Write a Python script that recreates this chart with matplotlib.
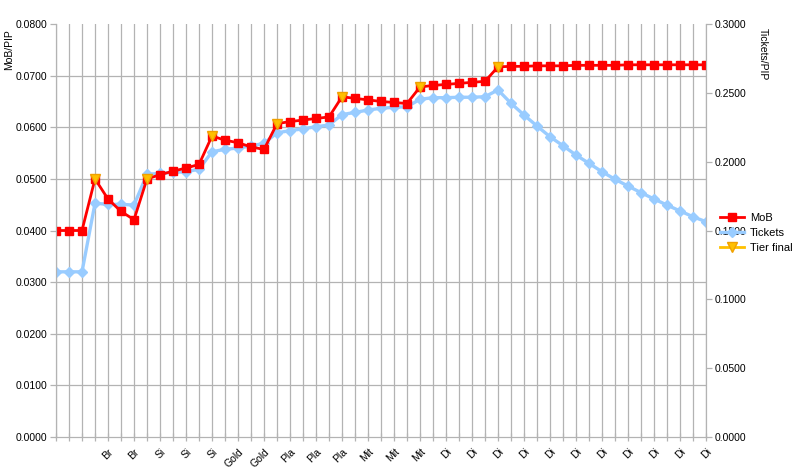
import numpy as np
import matplotlib
matplotlib.use("Agg")
import matplotlib.pyplot as plt
from matplotlib.ticker import MultipleLocator, FormatStrFormatter

plt.rcParams['font.family'] = ['Liberation Sans', 'DejaVu Sans']

# Categorias (51 pontos, rotulo mostrado a cada 2)
cats = ([''] * 3 + ['Br'] * 4 + ['Si'] * 6 + ['Gold'] * 4 + ['Pla'] * 6
        + ['Mit'] * 6 + ['Di'] * 22)

# MoB/PIP (eixo esquerdo)
mob = [0.0400, 0.0400, 0.0400,
       0.0500, 0.0461, 0.0437, 0.0421,
       0.0500, 0.0508, 0.0515, 0.0521, 0.0528,
       0.0583, 0.0575, 0.0570, 0.0562, 0.0557,
       0.0607, 0.0611, 0.0614, 0.0617, 0.0620,
       0.0659, 0.0656, 0.0653, 0.0650, 0.0648, 0.0646,
       0.0678, 0.0681, 0.0683, 0.0685, 0.0687, 0.0689,
       0.0717, 0.0718, 0.0718, 0.0719, 0.0719, 0.0719, 0.0720, 0.0720,
       0.0720, 0.0720, 0.0721, 0.0721, 0.0721, 0.0721, 0.0721, 0.0721, 0.0721]

# Tickets/PIP (eixo direito)
tickets = [0.1200, 0.1200, 0.1200,
           0.1698, 0.1690, 0.1690, 0.1685,
           0.1908, 0.1915, 0.1922, 0.1927, 0.1945,
           0.2072, 0.2090, 0.2099, 0.2114, 0.2133,
           0.2210, 0.2225, 0.2239, 0.2254, 0.2266,
           0.2342, 0.2358, 0.2375, 0.2388, 0.2395, 0.2399,
           0.2453, 0.2465, 0.2465, 0.2468, 0.2468, 0.2472,
           0.2521, 0.2424, 0.2339, 0.2259, 0.2181, 0.2116, 0.2048, 0.1988,
           0.1927, 0.1872, 0.1823, 0.1775, 0.1729, 0.1685, 0.1642, 0.1600, 0.1564]

# Tier final (so nos pontos de mudanca de tier)
tier_idx = [3, 7, 12, 17, 22, 28, 34]
tier_vals = [0.0500, 0.0500, 0.0583, 0.0607, 0.0659, 0.0678, 0.0717]

x = np.arange(len(cats))
tier = np.full(len(cats), np.nan)
tier[tier_idx] = tier_vals

grid_c = '#b3b3b3'
fig = plt.figure(figsize=(8, 4.69), dpi=100)
ax = fig.add_axes([0.07, 0.0682, 0.8125, 0.8806])
ax2 = ax.twinx()

# eixo esquerdo por cima, grade desenhada no eixo de baixo
ax.set_zorder(ax2.get_zorder() + 1)
ax.patch.set_visible(False)

ax2.plot(x, tickets, color='#99ccff', lw=2.4, marker='D', ms=5, label='Tickets')
ax.plot(x, mob, color='#ff0000', lw=2, marker='s', ms=6, label='MoB')
ax.plot(x, tier, color='#ffc000', lw=2, marker='v', ms=7, mec='#f0a000',
        label='Tier final')

ax.set_xlim(0, len(cats) - 1)
ax.set_ylim(0, 0.08)
ax2.set_ylim(0, 0.30)
ax.yaxis.set_major_locator(MultipleLocator(0.01))
ax2.yaxis.set_major_locator(MultipleLocator(0.05))
ax2.yaxis.set_minor_locator(MultipleLocator(0.30 / 8))
ax.yaxis.set_major_formatter(FormatStrFormatter('%.4f'))
ax2.yaxis.set_major_formatter(FormatStrFormatter('%.4f'))

ax.set_xticks(x)
ax.set_xticklabels([c if i % 2 == 0 else '' for i, c in enumerate(cats)],
                   rotation=45, ha='right', rotation_mode='anchor', fontsize=7.5)

# grade no eixo de tras
ax2.xaxis.set_visible(True)
ax2.set_xticks(x)
ax2.tick_params(axis='x', labelbottom=False, labeltop=False, length=0)
ax2.grid(True, which='major', axis='x', color=grid_c, lw=0.9)
ax2.grid(True, which='minor', axis='y', color=grid_c, lw=0.9)
ax2.tick_params(which='minor', length=0)

for a in (ax, ax2):
    for s in a.spines.values():
        s.set_color(grid_c)
    a.spines['top'].set_visible(False)
    a.tick_params(axis='y', colors=grid_c, labelcolor='black', labelsize=7.5,
                  length=4, width=0.9, pad=2)
ax.tick_params(axis='x', colors=grid_c, labelcolor='black', direction='inout',
               length=6, width=0.9, pad=4)

fig.text(0.011, 1 - 50 / 469, 'MoB/PIP', rotation=90, ha='center', va='center',
         fontsize=7.5)
fig.text(0.954, 1 - 54 / 469, 'Tickets/PIP', rotation=270, ha='center',
         va='center', fontsize=7.5)

h1, l1 = ax.get_legend_handles_labels()
h2, l2 = ax2.get_legend_handles_labels()
handles = [h1[0], h2[0], h1[1]]
labels = [l1[0], l2[0], l1[1]]
fig.legend(handles, labels, loc='center left', bbox_to_anchor=(720 / 800, 1 - 233 / 469),
           frameon=False, fontsize=8, handlelength=2.2, handletextpad=0.5,
           labelspacing=0.45, borderpad=0, borderaxespad=0)

plt.savefig('out.png', dpi=100)
plt.close()
